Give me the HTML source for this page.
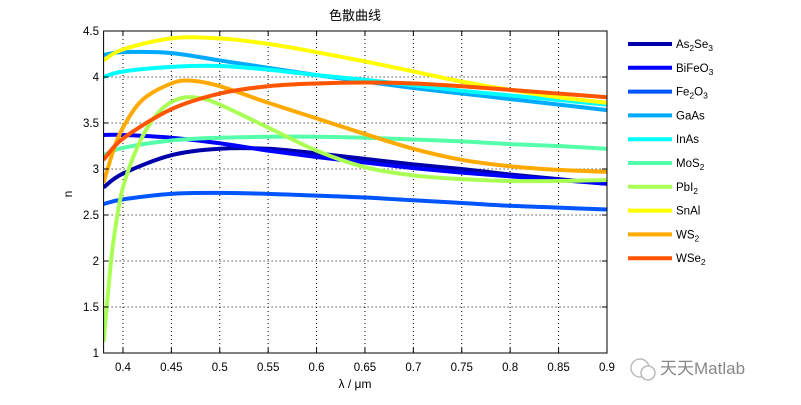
<!DOCTYPE html>
<html><head><meta charset="utf-8"><style>
body{margin:0;background:#fff;}
svg text{font-family:"Liberation Sans","Noto Sans CJK SC",sans-serif;}
</style></head><body>
<svg id="s" width="801" height="400" xmlns="http://www.w3.org/2000/svg">
<rect width="801" height="400" fill="#fff"/>
<text x="355" y="20" font-size="13" text-anchor="middle">色散曲线</text>
<g id="grid"></g>
<g id="curves"></g>
<rect x="103.6" y="31" width="503.4" height="322" fill="none" stroke="#000" stroke-width="1"/>
<g id="ticks" font-size="11.5"></g>
<text x="355" y="388" font-size="12" text-anchor="middle">λ / μm</text>
<text x="72" y="194" font-size="12" text-anchor="middle" transform="rotate(-90 72 194)">n</text>
<g id="legend" font-size="11.5"></g>
<g transform="translate(628,368)"><circle cx="12" cy="0" r="9" fill="none" stroke="#bbb" stroke-width="1.5"/><circle cx="20" cy="5" r="7" fill="#fff" stroke="#bbb" stroke-width="1.5"/></g>
<text x="660" y="374" font-size="17" fill="#888">天天Matlab</text>
</svg>
<script>
const X=x=>103.6+(x-0.38)*968, Y=n=>353-(n-1)*92;
const ns="http://www.w3.org/2000/svg";
function el(p,t,a,txt){const e=document.createElementNS(ns,t);for(const k in a)e.setAttribute(k,a[k]);if(txt!==undefined)e.textContent=txt;document.getElementById(p).appendChild(e);return e;}
for(let i=0;i<11;i++){const x=0.4+i*0.05,px=X(x);
 if(i<10)el('grid','line',{x1:px,x2:px,y1:31,y2:353,stroke:'#000','stroke-width':1,'stroke-dasharray':'1,3'});
 el('ticks','line',{x1:px,x2:px,y1:353,y2:348,stroke:'#000'});el('ticks','line',{x1:px,x2:px,y1:31,y2:36,stroke:'#000'});
 el('ticks','text',{x:px,y:371,'text-anchor':'middle'},(Math.round(x*100)/100).toString());}
for(let i=0;i<8;i++){const n=1+i*0.5,py=Y(n);
 if(i>0&&i<7)el('grid','line',{x1:103.6,x2:607,y1:py,y2:py,stroke:'#000','stroke-width':1,'stroke-dasharray':'1,3'});
 el('ticks','line',{x1:103.6,x2:108.6,y1:py,y2:py,stroke:'#000'});el('ticks','line',{x1:602,x2:607,y1:py,y2:py,stroke:'#000'});
 el('ticks','text',{x:99,y:py+4,'text-anchor':'end'},n.toString());}
const D=[
['As','2','Se','3','#0000aa',[[.38,2.8],[.4,2.95],[.45,3.15],[.5,3.22],[.55,3.22],[.6,3.17],[.65,3.11],[.7,3.05],[.75,3.0],[.8,2.94],[.85,2.89],[.9,2.84]]],
['BiFeO','3','','','#0000ff',[[.38,3.37],[.4,3.37],[.45,3.34],[.5,3.28],[.55,3.2],[.6,3.13],[.65,3.07],[.7,3.01],[.75,2.96],[.8,2.92],[.85,2.88],[.9,2.84]]],
['Fe','2','O','3','#0055ff',[[.38,2.62],[.4,2.67],[.45,2.73],[.5,2.74],[.55,2.73],[.6,2.71],[.65,2.69],[.7,2.66],[.75,2.63],[.8,2.6],[.85,2.58],[.9,2.56]]],
['GaAs','','','','#00aaff',[[.38,4.24],[.4,4.27],[.45,4.26],[.5,4.18],[.55,4.1],[.6,4.02],[.65,3.95],[.7,3.88],[.75,3.82],[.8,3.76],[.85,3.7],[.9,3.64]]],
['InAs','','','','#00ffff',[[.38,4.0],[.4,4.06],[.45,4.11],[.5,4.12],[.55,4.08],[.6,4.02],[.65,3.97],[.7,3.91],[.75,3.85],[.8,3.8],[.85,3.75],[.9,3.7]]],
['MoS','2','','','#55ffaa',[[.38,3.15],[.4,3.23],[.45,3.31],[.5,3.34],[.55,3.35],[.6,3.35],[.65,3.34],[.7,3.32],[.75,3.3],[.8,3.27],[.85,3.25],[.9,3.22]]],
['PbI','2','','','#aaff55',[[.38,1.12],[.385,1.7],[.39,2.2],[.4,2.8],[.42,3.35],[.44,3.65],[.46,3.77],[.48,3.77],[.5,3.7],[.55,3.45],[.6,3.2],[.65,3.02],[.7,2.93],[.75,2.89],[.8,2.87],[.85,2.87],[.9,2.88]]],
['SnAl','','','','#ffff00',[[.38,4.18],[.4,4.3],[.45,4.42],[.5,4.42],[.55,4.36],[.6,4.27],[.65,4.17],[.7,4.06],[.75,3.95],[.8,3.86],[.85,3.78],[.9,3.72]]],
['WS','2','','','#ffaa00',[[.38,2.85],[.39,3.2],[.4,3.45],[.42,3.75],[.45,3.93],[.47,3.96],[.5,3.9],[.55,3.72],[.6,3.55],[.65,3.38],[.7,3.22],[.75,3.1],[.8,3.03],[.85,2.99],[.9,2.97]]],
['WSe','2','','','#ff5500',[[.38,3.1],[.4,3.33],[.45,3.65],[.5,3.82],[.55,3.9],[.6,3.93],[.65,3.94],[.7,3.93],[.75,3.9],[.8,3.86],[.85,3.82],[.9,3.78]]]];
function path(pts){let d='M'+X(pts[0][0])+','+Y(pts[0][1]);
 for(let i=0;i<pts.length-1;i++){const p0=pts[Math.max(0,i-1)],p1=pts[i],p2=pts[i+1],p3=pts[Math.min(pts.length-1,i+2)];
  const c1=[p1[0]+(p2[0]-p0[0])/6,p1[1]+(p2[1]-p0[1])/6],c2=[p2[0]-(p3[0]-p1[0])/6,p2[1]-(p3[1]-p1[1])/6];
  d+=' C'+X(c1[0])+','+Y(c1[1])+' '+X(c2[0])+','+Y(c2[1])+' '+X(p2[0])+','+Y(p2[1]);}
 return d;}
D.forEach((s,i)=>{
 el('curves','path',{d:path(s[5]),fill:'none',stroke:s[4],'stroke-width':4,'clip-path':'url(#c)'});
 const y=44+i*23.8;
 el('legend','line',{x1:628,x2:672,y1:y,y2:y,stroke:s[4],'stroke-width':4});
 const t=el('legend','text',{x:676,y:y+4});
 t.appendChild(document.createTextNode(s[0]));
 if(s[1]){const a=document.createElementNS(ns,'tspan');a.setAttribute('font-size','8.5');a.setAttribute('dy','3');a.textContent=s[1];t.appendChild(a);}
 if(s[2]){const a=document.createElementNS(ns,'tspan');a.setAttribute('dy','-3');a.textContent=s[2];t.appendChild(a);}
 if(s[3]){const a=document.createElementNS(ns,'tspan');a.setAttribute('font-size','8.5');a.setAttribute('dy','3');a.textContent=s[3];t.appendChild(a);}
});
const defs=document.createElementNS(ns,'defs');defs.innerHTML='<clipPath id="c"><rect x="103.6" y="31" width="503.4" height="322"/></clipPath>';
document.getElementById('s').insertBefore(defs,document.getElementById('s').firstChild);
</script>
</body></html>
